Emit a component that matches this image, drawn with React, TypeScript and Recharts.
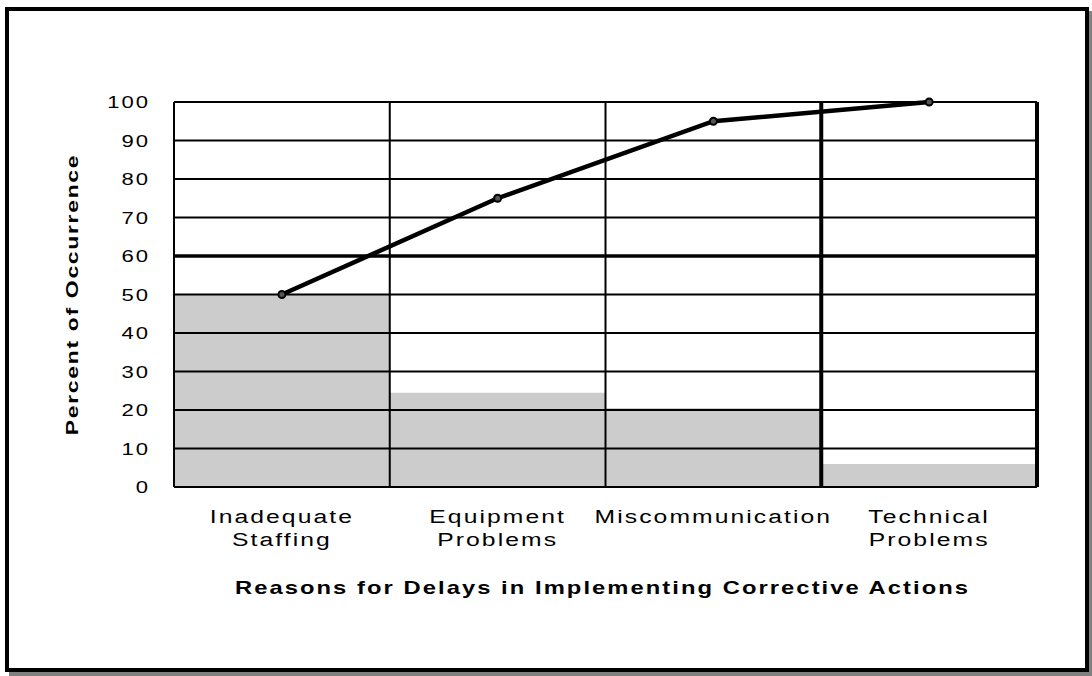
import { ComposedChart, Bar, Line, XAxis, YAxis, ReferenceLine, Label } from "recharts";

const CATEGORIES = ["Inadequate Staffing", "Equipment Problems", "Miscommunication", "Technical Problems"];
const TICK_LINES = [["Inadequate", "Staffing"], ["Equipment", "Problems"], ["Miscommunication"], ["Technical", "Problems"]];
const OCCURRENCE = [50, 24.5, 20.5, 6];
const CUMULATIVE = [50, 75, 95, 100];
const Y_TICKS = [0, 10, 20, 30, 40, 50, 60, 70, 80, 90, 100];

const FONT = "'Liberation Sans', Arial, Helvetica, sans-serif";

const chartData = CATEGORIES.map((name, i) => ({
    name,
    occurrence: OCCURRENCE[i],
    cumulative: CUMULATIVE[i],
}));

function YTick({ x, y, payload }: any) {
    return (
        <g transform={`translate(${x},${y}) scale(1.3,1)`}>
            <text x={0} y={0} dy="0.36em" textAnchor="end" fontFamily={FONT} fontSize={17} letterSpacing={1.5} fill="#000">
                {payload.value}
            </text>
        </g>
    );
}

function XTick({ x, y, index }: any) {
    const lines = TICK_LINES[index] || [];
    return (
        <g>
            {lines.map((t, i) => (
                <g key={i} transform={`translate(${x},${y + 34 + i * 23}) scale(1.3,1)`}>
                    <text x={0} y={0} textAnchor="middle" fontFamily={FONT} fontSize={19} letterSpacing={1.6} fill="#000">
                        {t}
                    </text>
                </g>
            ))}
        </g>
    );
}

export default function App() {
    return (
        <div style={{ position: "absolute", left: 0, top: 0, width: 1092, height: 676, background: "#fff" }}>
            <div
                style={{
                    position: "absolute",
                    left: 5,
                    top: 7,
                    width: 1084,
                    height: 665,
                    border: "4px solid #000",
                    boxSizing: "border-box",
                    boxShadow: "4px 4px 0 #808080",
                }}
            />
            <div style={{ position: "absolute", left: 0, top: 0 }}>
                <ComposedChart
                    width={1092}
                    height={676}
                    data={chartData}
                    margin={{ top: 102, right: 55, left: 114, bottom: 129 }}
                    barCategoryGap={0}
                    barGap={0}
                >
                    <XAxis
                        dataKey="name"
                        height={60}
                        axisLine={false}
                        tickLine={false}
                        tickSize={0}
                        tick={<XTick />}
                        interval={0}
                    >
                        <Label
                            content={({ viewBox }: any) => (
                                <g transform={`translate(${viewBox.x + viewBox.width / 2 - 3},${viewBox.y + 107}) scale(1.25,1)`}>
                                    <text x={0} y={0} textAnchor="middle" fontFamily={FONT} fontSize={19} fontWeight="bold" letterSpacing={1.65} fill="#000">
                                        Reasons for Delays in Implementing Corrective Actions
                                    </text>
                                </g>
                            )}
                        />
                    </XAxis>
                    <YAxis
                        domain={[0, 100]}
                        ticks={Y_TICKS}
                        width={60}
                        axisLine={false}
                        tickLine={false}
                        tickSize={0}
                        tickMargin={24}
                        tick={<YTick />}
                        interval={0}
                    >
                        <Label
                            content={({ viewBox }: any) => (
                                <g transform={`translate(${72 + 6},${viewBox.y + viewBox.height / 2}) rotate(-90) scale(1.35,1)`}>
                                    <text x={0} y={0} textAnchor="middle" fontFamily={FONT} fontSize={17} fontWeight="bold" letterSpacing={1.25} fill="#000">
                                        Percent of Occurrence
                                    </text>
                                </g>
                            )}
                        />
                    </YAxis>
                    <Bar dataKey="occurrence" fill="#cccccc" isAnimationActive={false} />
                    {Y_TICKS.map((t) => (
                        <ReferenceLine key={`h-${t}`} y={t} stroke="#000" strokeWidth={t === 60 ? 3.5 : 2} />
                    ))}
                    {CATEGORIES.map((c, i) => (
                        <ReferenceLine key={`v-${c}`} x={c} position="start" stroke="#000" strokeWidth={i === 3 ? 4 : 2} />
                    ))}
                    <ReferenceLine x={CATEGORIES[CATEGORIES.length - 1]} position="end" stroke="#000" strokeWidth={4} />
                    <Line
                        dataKey="cumulative"
                        stroke="#000"
                        strokeWidth={4.5}
                        dot={{ r: 3.5, stroke: "#000", strokeWidth: 2, fill: "#555" }}
                        isAnimationActive={false}
                    />
                </ComposedChart>
            </div>
        </div>
    );
}
